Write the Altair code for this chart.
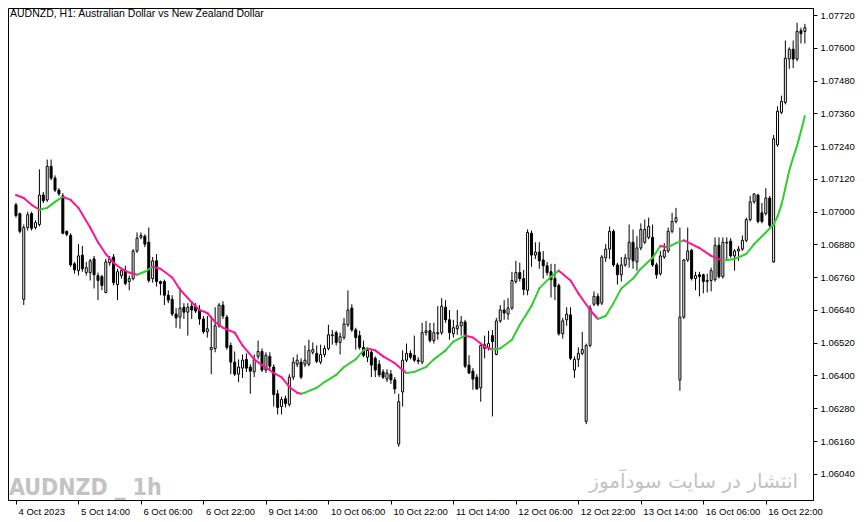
import json

import altair as alt
import pandas as pd

# AUDNZD H1 candles (bar 0 = 4 Oct 22:00)
opens = [
    1.07025, 1.06993, 1.06679, 1.06942, 1.06993, 1.06942, 1.06953, 1.07061, 1.07043, 1.07166,
    1.07123, 1.07079, 1.07058, 1.06928, 1.06913, 1.06809, 1.06784, 1.06841, 1.06777, 1.06777,
    1.06827, 1.06766, 1.06762, 1.06704, 1.06813, 1.06834, 1.06733, 1.06766, 1.06784, 1.06744,
    1.06755, 1.06856, 1.06906, 1.06910, 1.06888, 1.06755, 1.06820, 1.06744, 1.06744, 1.06694,
    1.06679, 1.06625, 1.06614, 1.06650, 1.06632, 1.06654, 1.06654, 1.06640, 1.06607, 1.06560,
    1.06495, 1.06499, 1.06582, 1.06658, 1.06614, 1.06510, 1.06449, 1.06405, 1.06427, 1.06459,
    1.06431, 1.06413, 1.06470, 1.06488, 1.06420, 1.06470, 1.06431, 1.06333, 1.06286, 1.06315,
    1.06294, 1.06394, 1.06441, 1.06449, 1.06441, 1.06441, 1.06485, 1.06481, 1.06449, 1.06477,
    1.06499, 1.06546, 1.06557, 1.06521, 1.06539, 1.06586, 1.06647, 1.06567, 1.06546, 1.06503,
    1.06467, 1.06485, 1.06463, 1.06441, 1.06413, 1.06387, 1.06405, 1.06384, 1.06149, 1.06340,
    1.06456, 1.06481, 1.06474, 1.06456, 1.06449, 1.06557, 1.06564, 1.06528, 1.06553, 1.06557,
    1.06650, 1.06604, 1.06553, 1.06571, 1.06582, 1.06596, 1.06438, 1.06416, 1.06394, 1.06355,
    1.06499, 1.06503, 1.06546, 1.06477, 1.06600, 1.06640, 1.06625, 1.06647, 1.06744, 1.06777,
    1.06755, 1.06712, 1.06921, 1.06841, 1.06852, 1.06823, 1.06802, 1.06780, 1.06755, 1.06730,
    1.06553, 1.06604, 1.06622, 1.06420, 1.06459, 1.06481, 1.06232, 1.06510, 1.06661, 1.06690,
    1.06665, 1.06831, 1.06863, 1.06928, 1.06805, 1.06769, 1.06805, 1.06827, 1.06888, 1.06816,
    1.06867, 1.06888, 1.06906, 1.06906, 1.06805, 1.06773, 1.06834, 1.06856, 1.06928, 1.06964,
    1.06384, 1.06614, 1.06823, 1.06859, 1.06755, 1.06769, 1.06769, 1.06744, 1.06748, 1.06751,
    1.06877, 1.06762, 1.06885, 1.06892, 1.06838, 1.06856, 1.06863, 1.06895, 1.06971, 1.07036,
    1.07061, 1.06996, 1.06993, 1.07050, 1.06816, 1.07245, 1.07364, 1.07400, 1.07559, 1.07595,
    1.07559, 1.07663, 1.07660,
]
highs = [
    1.07032, 1.06996, 1.06953, 1.07000, 1.07000, 1.06968, 1.07155, 1.07072, 1.07191, 1.07191,
    1.07133, 1.07086, 1.07068, 1.06931, 1.06921, 1.06816, 1.06881, 1.06874, 1.06816, 1.06827,
    1.06838, 1.06777, 1.06769, 1.06827, 1.06838, 1.06845, 1.06791, 1.06795, 1.06802, 1.06766,
    1.06863, 1.06924, 1.06924, 1.06917, 1.06942, 1.06834, 1.06845, 1.06748, 1.06751, 1.06712,
    1.06694, 1.06647, 1.06722, 1.06665, 1.06665, 1.06672, 1.06665, 1.06658, 1.06618, 1.06618,
    1.06618, 1.06650, 1.06665, 1.06672, 1.06622, 1.06521, 1.06488, 1.06459, 1.06477, 1.06481,
    1.06441, 1.06477, 1.06528, 1.06499, 1.06485, 1.06485, 1.06441, 1.06348, 1.06322, 1.06326,
    1.06405, 1.06467, 1.06477, 1.06463, 1.06510, 1.06531, 1.06521, 1.06510, 1.06513, 1.06510,
    1.06586, 1.06567, 1.06564, 1.06557, 1.06611, 1.06712, 1.06661, 1.06575, 1.06564, 1.06528,
    1.06503, 1.06495, 1.06470, 1.06456, 1.06423, 1.06423, 1.06420, 1.06394, 1.06333, 1.06492,
    1.06517, 1.06492, 1.06546, 1.06467, 1.06593, 1.06600, 1.06593, 1.06593, 1.06654, 1.06683,
    1.06676, 1.06640, 1.06604, 1.06640, 1.06618, 1.06604, 1.06474, 1.06427, 1.06405, 1.06513,
    1.06546, 1.06564, 1.06567, 1.06611, 1.06658, 1.06676, 1.06683, 1.06780, 1.06820, 1.06813,
    1.06787, 1.06935, 1.06931, 1.06888, 1.06888, 1.06856, 1.06816, 1.06809, 1.06809, 1.06737,
    1.06611, 1.06650, 1.06650, 1.06470, 1.06503, 1.06560, 1.06517, 1.06658, 1.06708, 1.06701,
    1.06841, 1.06881, 1.06946, 1.06935, 1.06813, 1.06834, 1.06845, 1.06953, 1.06935, 1.06910,
    1.06957, 1.06971, 1.06978, 1.06953, 1.06813, 1.06856, 1.06885, 1.06942, 1.06996, 1.07014,
    1.06942, 1.06827, 1.06942, 1.06863, 1.06780, 1.06780, 1.06773, 1.06773, 1.06795, 1.06906,
    1.06906, 1.06906, 1.06906, 1.06903, 1.06863, 1.06874, 1.06913, 1.06978, 1.07058, 1.07068,
    1.07065, 1.07032, 1.07086, 1.07058, 1.07281, 1.07386, 1.07425, 1.07627, 1.07602, 1.07627,
    1.07692, 1.07674, 1.07688,
]
lows = [
    1.06978, 1.06921, 1.06658, 1.06931, 1.06931, 1.06935, 1.06946, 1.07032, 1.07036, 1.07115,
    1.07072, 1.07058, 1.06917, 1.06910, 1.06798, 1.06773, 1.06766, 1.06780, 1.06766, 1.06748,
    1.06719, 1.06676, 1.06712, 1.06701, 1.06802, 1.06730, 1.06676, 1.06755, 1.06730, 1.06712,
    1.06748, 1.06849, 1.06899, 1.06870, 1.06740, 1.06740, 1.06726, 1.06694, 1.06658, 1.06665,
    1.06618, 1.06575, 1.06571, 1.06607, 1.06546, 1.06607, 1.06629, 1.06586, 1.06553, 1.06539,
    1.06405, 1.06485, 1.06575, 1.06607, 1.06495, 1.06405, 1.06398, 1.06376, 1.06391, 1.06413,
    1.06333, 1.06394, 1.06459, 1.06413, 1.06409, 1.06420, 1.06286, 1.06257, 1.06257, 1.06283,
    1.06286, 1.06384, 1.06431, 1.06387, 1.06431, 1.06434, 1.06477, 1.06445, 1.06441, 1.06467,
    1.06492, 1.06513, 1.06510, 1.06477, 1.06531, 1.06578, 1.06560, 1.06495, 1.06495, 1.06467,
    1.06449, 1.06394, 1.06394, 1.06394, 1.06387, 1.06376, 1.06369, 1.06333, 1.06139, 1.06286,
    1.06449, 1.06459, 1.06449, 1.06441, 1.06441, 1.06546, 1.06521, 1.06517, 1.06531, 1.06549,
    1.06593, 1.06531, 1.06539, 1.06549, 1.06546, 1.06427, 1.06405, 1.06348, 1.06348, 1.06304,
    1.06463, 1.06492, 1.06250, 1.06474, 1.06593, 1.06604, 1.06604, 1.06640, 1.06737, 1.06744,
    1.06694, 1.06694, 1.06798, 1.06827, 1.06791, 1.06755, 1.06766, 1.06686, 1.06676, 1.06546,
    1.06535, 1.06582, 1.06456, 1.06391, 1.06431, 1.06474, 1.06222, 1.06503, 1.06654, 1.06654,
    1.06658, 1.06816, 1.06827, 1.06798, 1.06733, 1.06744, 1.06798, 1.06795, 1.06791, 1.06784,
    1.06859, 1.06881, 1.06899, 1.06798, 1.06755, 1.06766, 1.06827, 1.06849, 1.06921, 1.06957,
    1.06344, 1.06607, 1.06816, 1.06748, 1.06712, 1.06690, 1.06701, 1.06704, 1.06708, 1.06744,
    1.06755, 1.06755, 1.06820, 1.06831, 1.06784, 1.06820, 1.06856, 1.06888, 1.06964, 1.07029,
    1.06957, 1.06957, 1.06986, 1.06942, 1.06813, 1.07238, 1.07357, 1.07393, 1.07523, 1.07526,
    1.07551, 1.07616, 1.07616,
]
closes = [
    1.06986, 1.06928, 1.06942, 1.06989, 1.06939, 1.06960, 1.07061, 1.07040, 1.07166, 1.07123,
    1.07079, 1.07065, 1.06921, 1.06917, 1.06805, 1.06787, 1.06838, 1.06791, 1.06795, 1.06820,
    1.06769, 1.06748, 1.06730, 1.06816, 1.06827, 1.06740, 1.06780, 1.06784, 1.06737, 1.06755,
    1.06856, 1.06903, 1.06913, 1.06881, 1.06748, 1.06820, 1.06744, 1.06737, 1.06694, 1.06676,
    1.06625, 1.06611, 1.06647, 1.06632, 1.06650, 1.06640, 1.06636, 1.06607, 1.06560, 1.06571,
    1.06503, 1.06582, 1.06658, 1.06618, 1.06503, 1.06449, 1.06405, 1.06431, 1.06456, 1.06427,
    1.06416, 1.06459, 1.06488, 1.06420, 1.06474, 1.06434, 1.06330, 1.06283, 1.06312, 1.06297,
    1.06394, 1.06449, 1.06456, 1.06394, 1.06456, 1.06492, 1.06495, 1.06452, 1.06477, 1.06499,
    1.06549, 1.06549, 1.06521, 1.06542, 1.06589, 1.06640, 1.06567, 1.06539, 1.06503, 1.06474,
    1.06492, 1.06438, 1.06420, 1.06402, 1.06394, 1.06409, 1.06384, 1.06351, 1.06304, 1.06456,
    1.06481, 1.06467, 1.06456, 1.06452, 1.06557, 1.06564, 1.06528, 1.06557, 1.06557, 1.06654,
    1.06604, 1.06557, 1.06575, 1.06582, 1.06596, 1.06434, 1.06409, 1.06387, 1.06351, 1.06510,
    1.06513, 1.06517, 1.06524, 1.06600, 1.06640, 1.06629, 1.06647, 1.06748, 1.06777, 1.06755,
    1.06715, 1.06924, 1.06841, 1.06852, 1.06820, 1.06802, 1.06777, 1.06751, 1.06726, 1.06553,
    1.06600, 1.06625, 1.06463, 1.06459, 1.06481, 1.06495, 1.06510, 1.06647, 1.06690, 1.06661,
    1.06834, 1.06863, 1.06928, 1.06805, 1.06769, 1.06805, 1.06831, 1.06888, 1.06820, 1.06867,
    1.06935, 1.06935, 1.06946, 1.06805, 1.06769, 1.06838, 1.06859, 1.06928, 1.06964, 1.06978,
    1.06614, 1.06823, 1.06856, 1.06755, 1.06766, 1.06762, 1.06744, 1.06748, 1.06784, 1.06877,
    1.06762, 1.06888, 1.06888, 1.06838, 1.06856, 1.06863, 1.06895, 1.06971, 1.07036, 1.07065,
    1.06964, 1.06964, 1.07050, 1.06950, 1.07267, 1.07368, 1.07404, 1.07562, 1.07595, 1.07559,
    1.07660, 1.07652, 1.07674,
]

# moving average line (bar index, price)
ma_bars = [
    0, 2, 4, 6, 8, 10, 12, 14, 16, 19, 21, 23, 25, 27, 29, 31, 33, 35, 37, 40,
    42, 45, 47, 49, 51, 53, 56, 58, 61, 63, 66, 68, 70, 72, 73, 74, 77, 79, 82, 84,
    87, 89, 90, 92, 94, 97, 99, 100, 102, 105, 107, 110, 112, 115, 117, 120, 122, 124, 127, 129,
    132, 134, 137, 139, 142, 144, 147, 149, 151, 153, 155, 158, 160, 163, 165, 167, 169, 171, 173, 175,
    178, 181, 184, 187, 189, 192, 194, 195, 196, 197, 198, 199, 200, 201, 202,
]
ma_values = [
    1.07061, 1.07050, 1.07025, 1.07007, 1.07014, 1.07036, 1.07054, 1.07043, 1.07014, 1.06942,
    1.06888, 1.06845, 1.06813, 1.06791, 1.06777, 1.06769, 1.06780, 1.06798, 1.06791, 1.06759,
    1.06715, 1.06668, 1.06640, 1.06629, 1.06596, 1.06575, 1.06557, 1.06510, 1.06459, 1.06438,
    1.06409, 1.06394, 1.06358, 1.06337, 1.06333, 1.06337, 1.06355, 1.06376, 1.06402, 1.06431,
    1.06459, 1.06492, 1.06499, 1.06492, 1.06470, 1.06445, 1.06420, 1.06409, 1.06413, 1.06431,
    1.06459, 1.06492, 1.06524, 1.06546, 1.06539, 1.06506, 1.06495, 1.06499, 1.06531, 1.06586,
    1.06654, 1.06719, 1.06762, 1.06784, 1.06748, 1.06701, 1.06640, 1.06607, 1.06618, 1.06665,
    1.06719, 1.06755, 1.06791, 1.06831, 1.06874, 1.06870, 1.06885, 1.06895, 1.06881, 1.06867,
    1.06838, 1.06820, 1.06827, 1.06845, 1.06881, 1.06924, 1.06953, 1.06982, 1.07025, 1.07086,
    1.07151, 1.07198, 1.07241, 1.07295, 1.07350,
]

time_ticks = [0, 16, 32, 48, 64, 80, 96, 112, 128, 144, 160, 176, 192]
time_labels = [
    "4 Oct 2023", "5 Oct 14:00", "6 Oct 06:00", "6 Oct 22:00", "9 Oct 14:00",
    "10 Oct 06:00", "10 Oct 22:00", "11 Oct 14:00", "12 Oct 06:00", "12 Oct 22:00",
    "13 Oct 14:00", "16 Oct 06:00", "16 Oct 22:00",
]
price_ticks = [
    1.06040, 1.06160, 1.06280, 1.06400, 1.06520, 1.06640, 1.06760, 1.06880,
    1.07000, 1.07120, 1.07240, 1.07360, 1.07480, 1.07600, 1.07720,
]

candles = pd.DataFrame({
    "bar": range(len(opens)),
    "open": opens, "high": highs, "low": lows, "close": closes,
})
candles["dir"] = ["up" if c >= o else "down" for o, c in zip(opens, closes)]

# one 2-point piece per step, coloured by its slope
rows = []
for k in range(len(ma_bars) - 1):
    trend = "up" if ma_values[k + 1] > ma_values[k] else "down"
    for j in (k, k + 1):
        rows.append({"seg": k, "bar": ma_bars[j], "ma": ma_values[j], "trend": trend})
ma = pd.DataFrame(rows)

FONT = "Liberation Sans"
x_scale = alt.Scale(domain=[-0.76, 202.8], nice=False, zero=False)
y_scale = alt.Scale(domain=[1.05944, 1.07746], nice=False, zero=False)

x_axis = alt.Axis(
    values=time_ticks, labelExpr=json.dumps(time_labels) + "[round(datum.value / 16)]",
    labelAlign="left", labelBaseline="top", labelOffset=2, labelPadding=2,
    labelFlush=False, labelOverlap=False, tickSize=4, grid=False, title=None,
)
y_axis = alt.Axis(
    orient="right", values=price_ticks, format=".5f", labelAlign="left",
    labelPadding=3, labelFlush=False, labelOverlap=False, tickSize=4,
    grid=False, title=None,
)
X = alt.X("bar:Q", scale=x_scale, axis=x_axis)

wicks = alt.Chart(candles).mark_rule(color="black", strokeWidth=1).encode(
    x=X, y=alt.Y("low:Q", scale=y_scale, axis=y_axis), y2="high:Q")

bodies = alt.Chart(candles).mark_bar(width=2, stroke="black", strokeWidth=1).encode(
    x=X, y=alt.Y("open:Q", scale=y_scale, axis=y_axis), y2="close:Q",
    fill=alt.Fill("dir:N", scale=alt.Scale(domain=["up", "down"], range=["white", "black"]),
                  legend=None))

ma_line = alt.Chart(ma).mark_line(strokeWidth=2, strokeCap="round").encode(
    x=X, y=alt.Y("ma:Q", scale=y_scale, axis=y_axis), detail="seg:N",
    color=alt.Color("trend:N", scale=alt.Scale(domain=["up", "down"], range=["#32CD32", "#FF1493"]),
                    legend=None))

title = alt.Chart(pd.DataFrame({"t": ["AUDNZD, H1:  Australian Dollar vs New Zealand Dollar"]})).mark_text(
    align="left", baseline="top", font=FONT, fontSize=10.5, color="black").encode(
    text="t:N", x=alt.value(2), y=alt.value(1))

mark_left = alt.Chart(pd.DataFrame({"t": ["AUDNZD _ 1h"]})).mark_text(
    align="left", baseline="alphabetic", font="'DejaVu Sans Condensed', 'DejaVu Sans', sans-serif",
    fontSize=23, fontWeight="bold", color="#C3C3C3").encode(
    text="t:N", x=alt.value(1), y=alt.value(487))

mark_right = alt.Chart(pd.DataFrame({"t": ["انتشار در سایت سودآموز"]})).mark_text(
    align="right", baseline="middle", font="DejaVu Sans", fontSize=20, color="#C3C3C3").encode(
    text="t:N", x=alt.value(790), y=alt.value(474))

chart = (
    alt.layer(mark_left, mark_right, wicks, bodies, ma_line, title)
    .properties(width=805, height=492, padding=0)
    .configure(background="white")
    .configure_view(stroke="black", strokeWidth=1)
    .configure_axis(domainColor="black", tickColor="black", labelColor="black",
                    labelFont=FONT, labelFontSize=9.5, domainWidth=1, tickWidth=1)
)

chart.save("out.html", embed_options={"renderer": "svg", "actions": False})
